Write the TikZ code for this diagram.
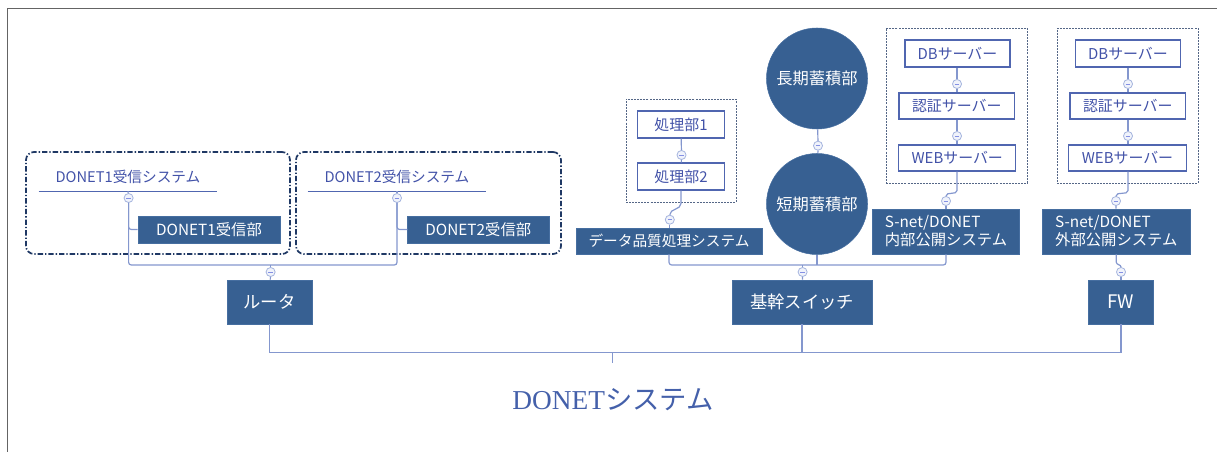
\documentclass[tikz,border=0pt]{standalone}
\usepackage{fontspec}
\setmainfont{Noto Sans CJK JP}
\newfontfamily\titlefont{Liberation Serif}
\usetikzlibrary{positioning,calc}
\definecolor{boxblue}{RGB}{55,96,146}
\definecolor{boxedge}{RGB}{70,110,160}
\definecolor{linec}{RGB}{132,151,206}
\definecolor{knobline}{RGB}{165,180,222}
\definecolor{knobfill}{RGB}{240,243,251}
\definecolor{wbline}{RGB}{80,102,176}
\definecolor{txtblue}{RGB}{66,82,168}
\definecolor{navy}{RGB}{31,56,100}
\definecolor{grpgray}{RGB}{85,103,135}
\definecolor{framec}{RGB}{100,100,100}
\definecolor{titlec}{RGB}{68,96,170}
\tikzset{
    link/.style={draw=linec, line width=0.9pt},
    knob/.style={circle, draw=knobline, fill=knobfill, line width=0.6pt, minimum size=6.8pt, inner sep=0pt,
      path picture={\draw[knobline!80!blue, line width=0.7pt] ([xshift=-1.7pt]path picture bounding box.center) -- ([xshift=1.7pt]path picture bounding box.center);}},
    darkbox/.style={rectangle, fill=boxblue, draw=boxedge, line width=0.4pt, text=white, inner sep=0pt, align=left, font=\fontsize{11.5}{13.5}\selectfont},
    whitebox/.style={rectangle, fill=white, draw=wbline, line width=0.8pt, text=txtblue, inner sep=0pt, font=\fontsize{11.2}{13}\selectfont},
    store/.style={circle, fill=boxblue, draw=boxedge, line width=0.4pt, text=white, inner sep=0pt, minimum size=75.75pt, font=\fontsize{12.2}{14}\selectfont},
    sysgrp/.style={rectangle, rounded corners=6pt, draw=navy, line width=1.3pt, dash pattern=on 4pt off 1.5pt on 1pt off 1.5pt},
    srvgrp/.style={rectangle, draw=grpgray, line width=0.7pt, dash pattern=on 1.5pt off 0.8pt},
    syslabel/.style={text=txtblue, minimum width=133.5pt, minimum height=21pt, inner sep=0pt, font=\fontsize{11}{12}\selectfont}
}
\begin{document}
\begin{tikzpicture}[x=0.75pt, y=-0.75pt,
  bigbox/.style={darkbox, minimum height=33pt, font=\fontsize{13}{15}\selectfont},
  title/.style={text=titlec, font=\fontsize{20.5}{24}\selectfont}
]
\useasboundingbox (0,0) rectangle (1217,452);
% Frame
\draw[framec, line width=1pt] (7.5,452) -- (7.5,8.5) -- (1217,8.5);

% Groups
\node[sysgrp, minimum width=198pt, minimum height=76.5pt] (grp1) at (158,203) {};
\node[sysgrp, minimum width=198.75pt, minimum height=76.5pt] (grp2) at (428.5,203) {};
\node[srvgrp, minimum width=82.5pt, minimum height=77.25pt] (pgrp) at (681,150.5) {};
\node[srvgrp, minimum width=106pt, minimum height=116.25pt] (sgrp1) at (956.75,105.5) {};
\node[srvgrp, minimum width=105.75pt, minimum height=116.25pt] (sgrp2) at (1127.5,105.5) {};

% Receiving systems
\node[syslabel] (sys1) at (128,177) {DONET1受信システム};
\node[syslabel] (sys2) at (397,177) {DONET2受信システム};
\draw[wbline, line width=0.7pt] (sys1.south west) -- (sys1.south east);
\draw[wbline, line width=0.7pt] (sys2.south west) -- (sys2.south east);
\node[knob] (k1) at (128.6,198) {};
\node[knob] (k2) at (397,198) {};
\node[darkbox, minimum width=106.5pt, minimum height=20.25pt] (rx1) at (209,229.5) {DONET1受信部};
\node[darkbox, minimum width=106pt, minimum height=20.25pt] (rx2) at (478.3,229.5) {DONET2受信部};

% Quality processing
\node[whitebox, minimum width=65pt, minimum height=20.25pt] (p1) at (681,124.5) {処理部1};
\node[whitebox, minimum width=65pt, minimum height=20.25pt] (p2) at (681,176.5) {処理部2};
\node[knob] (kp) at (681.5,155) {};
\node[knob] (kq) at (669.8,219.7) {};
\node[darkbox, minimum width=139.5pt, minimum height=19.5pt, font=\fontsize{11}{13}\selectfont] (dq) at (669,241) {データ品質処理システム};

% Storage
\node[store] (long) at (817,78.5) {長期蓄積部};
\node[store] (short) at (817,204) {短期蓄積部};
\node[knob] (ks) at (818,145.7) {};

% Internal publishing servers
\node[whitebox, minimum width=78.75pt, minimum height=20.25pt] (db1) at (957.5,53.5) {DBサーバー};
\node[whitebox, minimum width=86.6pt, minimum height=19.5pt] (au1) at (956.75,106) {認証サーバー};
\node[whitebox, minimum width=88pt, minimum height=19.5pt] (web1) at (957.25,158) {WEBサーバー};
\node[knob] (ka1) at (957,84) {};
\node[knob] (kb1) at (957,136) {};
\node[knob] (ki) at (946,201) {};
\node[darkbox, minimum width=110.25pt, minimum height=33.75pt] (int) at (946,231.5) {S-net/DONET\\内部公開システム};

% External publishing servers
\node[whitebox, minimum width=78.5pt, minimum height=20.25pt] (db2) at (1128,53.5) {DBサーバー};
\node[whitebox, minimum width=86.6pt, minimum height=19.5pt] (au2) at (1127.75,106) {認証サーバー};
\node[whitebox, minimum width=88.3pt, minimum height=19.5pt] (web2) at (1127.5,158) {WEBサーバー};
\node[knob] (ka2) at (1128,84) {};
\node[knob] (kb2) at (1128,136) {};
\node[knob] (ke) at (1116,201) {};
\node[darkbox, minimum width=110.5pt, minimum height=33.75pt] (ext) at (1116.3,231.5) {S-net/DONET\\外部公開システム};

% Network
\node[knob] (kr) at (270.6,272) {};
\node[knob] (kc) at (802.6,272) {};
\node[knob] (kf) at (1121,272) {};
\node[bigbox, minimum width=63.75pt] (router) at (269.5,302) {ルータ};
\node[bigbox, minimum width=105pt] (core) at (802,302) {基幹スイッチ};
\node[bigbox, minimum width=48.5pt, font=\fontsize{14}{16}\selectfont] (fw) at (1121,302) {FW};
\node[title] (title) at (613,400) {{\titlefont DONET}システム};

% Links, left
\coordinate (busA) at (270.6,265);
\draw[link] (sys1.south) -- (k1);
\draw[link] (sys2.south) -- (k2);
\draw[link, rounded corners=2pt] (k1) |- (rx1.west);
\draw[link, rounded corners=2pt] (k2) |- (rx2.west);
\draw[link, rounded corners=2pt] (k1) |- (busA) -| (k2);
\draw[link] (busA) -- (kr);
\draw[link] (kr) -- (router);

% Links, right
\draw[link] (p1) -- (kp);
\draw[link] (kp) -- (p2);
\draw[link] (p2.south) -- ++(0,13) to[out=-90,in=90] (kq.north);
\draw[link] (kq) -- (dq.north -| kq);
\draw[link] (long) -- (ks);
\draw[link] (ks) -- (short);
\draw[link] (db1.south -| ka1) -- (ka1);
\draw[link] (ka1) -- (au1.north -| ka1);
\draw[link] (au1.south -| kb1) -- (kb1);
\draw[link] (kb1) -- (web1.north -| kb1);
\draw[link] (web1.south -| kb1) -- ++(0,19) to[out=-90,in=90] (ki.north);
\draw[link] (ki) -- (int);
\draw[link] (db2.south -| ka2) -- (ka2);
\draw[link] (ka2) -- (au2.north -| ka2);
\draw[link] (au2.south -| kb2) -- (kb2);
\draw[link] (kb2) -- (web2.north -| kb2);
\draw[link] (web2.south -| kb2) -- ++(0,19) to[out=-90,in=90] (ke.north);
\draw[link] (ke) -- (ext);
\draw[link] (ext.south) -- ++(0,8) to[out=-90,in=90] (kf.north);
\draw[link] (kf) -- (fw);

\coordinate (busC) at (802.6,265);
\draw[link, rounded corners=2pt] (dq.south) |- (busC) -| (int.south);
\draw[link] (short.south) -- (short.south |- busC);
\draw[link] (busC) -- (kc);
\draw[link] (kc) -- (core);

% Backbone
\coordinate (busB) at (612.8,352.7);
\coordinate (tick) at (612.8,363);
\draw[link] (router.south) |- (busB) -| (fw.south);
\draw[link] (core.south) -- (core.south |- busB);
\draw[link] (busB) -- (tick);
\end{tikzpicture}
\end{document}
